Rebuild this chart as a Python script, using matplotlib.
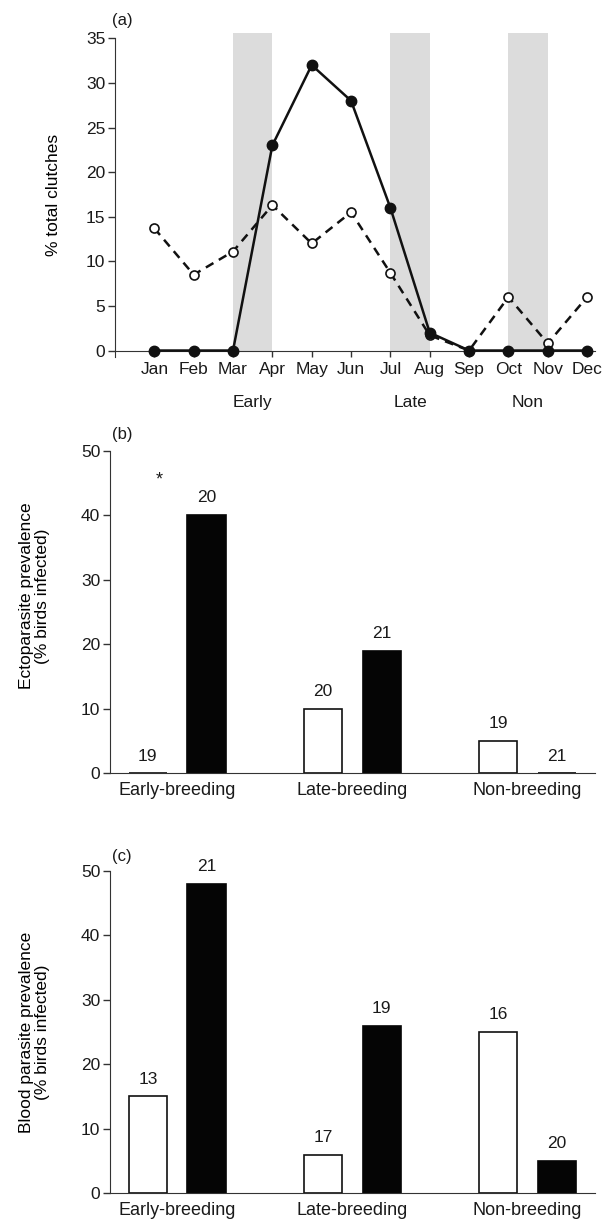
import matplotlib
matplotlib.use("Agg")
import matplotlib.pyplot as plt
import numpy as np

plt.rcParams["font.family"] = ["Liberation Sans", "DejaVu Sans"]
plt.rcParams["text.color"] = "#1a1a1a"
plt.rcParams["axes.edgecolor"] = "#333333"
plt.rcParams["xtick.color"] = "#333333"
plt.rcParams["ytick.color"] = "#333333"
plt.rcParams["xtick.labelcolor"] = "#1a1a1a"
plt.rcParams["ytick.labelcolor"] = "#1a1a1a"

# ---------------------------------------------------------------------------
# Data
# ---------------------------------------------------------------------------
months = ["Jan", "Feb", "Mar", "Apr", "May", "Jun",
          "Jul", "Aug", "Sep", "Oct", "Nov", "Dec"]
clutch_filled = [0, 0, 0, 23, 32, 28, 16, 2, 0, 0, 0, 0]
clutch_open = [13.7, 8.5, 11.1, 16.3, 12, 15.5, 8.7, 1.7, 0, 6, 0.8, 6]

# sampling periods (month index where each grey band starts)
period_names = ["Early", "Late", "Non"]
period_starts = [3, 7, 10]

groups = ["Early-breeding", "Late-breeding", "Non-breeding"]

ecto_white = [0, 10, 5]
ecto_black = [40, 19, 0]
ecto_n_white = ["19", "20", "19"]
ecto_n_black = ["20", "21", "21"]

blood_white = [15, 6, 25]
blood_black = [48, 26, 5]
blood_n_white = ["13", "17", "16"]
blood_n_black = ["21", "19", "20"]

FS = 12.5

fig = plt.figure(figsize=(6.03, 12.25), dpi=100)

# ---------------------------------------------------------------------------
# (a) monthly clutches
# ---------------------------------------------------------------------------
ax = fig.add_axes([0.1907, 0.7084, 0.796, 0.2647])
x = np.arange(1, len(months) + 1)

for s in period_starts:
    ax.fill_between([s, s + 1], 0, 35.6, color="#dcdcdc", lw=0, zorder=0)

ax.plot(x, clutch_open, "--", color="#111111", lw=1.8, dashes=(3.5, 2.5),
        marker="o", ms=6.5, mfc="white", mec="#111111", mew=1.2, zorder=3)
ax.plot(x, clutch_filled, "-", color="#111111", lw=1.8,
        marker="o", ms=7.5, mfc="#111111", mec="#111111", zorder=4)

ax.set_xlim(0, 12.2)
ax.set_ylim(-0.75, 35.6)
ax.set_yticks(np.arange(0, 36, 5))
ax.set_xticks(x)
ax.set_xticklabels(months)
ax.spines["top"].set_visible(False)
ax.spines["right"].set_visible(False)
ax.spines["bottom"].set_position(("data", 0))
ax.spines["left"].set_bounds(-0.75, 35)
ax.tick_params(axis="y", length=5, width=1, labelsize=FS, pad=2)
ax.tick_params(axis="x", length=4, width=1, labelsize=FS, pad=4)
ax.set_ylabel("% total clutches", fontsize=FS)
ax.yaxis.set_label_coords(-0.112, 0.5)

for name, s in zip(period_names, period_starts):
    ax.text(s + 0.5, -0.141, name, transform=ax.get_xaxis_transform(),
            ha="center", va="center", fontsize=FS)

fig.text(122 / 603, 1 - 20 / 1225, "(a)", ha="center", va="center", fontsize=12)


# ---------------------------------------------------------------------------
# (b), (c) prevalence bars
# ---------------------------------------------------------------------------
def bar_panel(rect, white, black, n_white, n_black, ylabel, label_y):
    ax = fig.add_axes(rect)
    g = np.arange(len(groups))
    w = 0.22
    off = 0.168
    ax.bar(g - off, white, w, color="white", edgecolor="#111111", lw=1.2)
    ax.bar(g + off, black, w, color="#050505", edgecolor="#050505", lw=1.2)
    for xi, v, t in zip(g - off, white, n_white):
        ax.annotate(t, (xi, v), xytext=(0, 7), textcoords="offset points",
                    ha="center", va="bottom", fontsize=FS)
    for xi, v, t in zip(g + off, black, n_black):
        ax.annotate(t, (xi, v), xytext=(0, 7), textcoords="offset points",
                    ha="center", va="bottom", fontsize=FS)
    ax.set_xlim(-0.384, 2.384)
    ax.set_ylim(0, 50)
    ax.set_yticks(np.arange(0, 51, 10))
    ax.set_xticks(g)
    ax.set_xticklabels(groups)
    ax.spines["top"].set_visible(False)
    ax.spines["right"].set_visible(False)
    ax.tick_params(axis="y", length=5, width=1, labelsize=FS, pad=2)
    ax.tick_params(axis="x", length=0, labelsize=13, pad=6)
    ax.set_ylabel(ylabel, fontsize=FS, linespacing=1.05)
    ax.yaxis.set_label_coords(-0.124, label_y)
    return ax


axb = bar_panel([0.1824, 0.3687, 0.804, 0.2634], ecto_white, ecto_black,
                ecto_n_white, ecto_n_black,
                "Ectoparasite prevalence\n(% birds infected)", 0.55)
axb.text(-0.1, 45.5, "*", ha="center", va="center", fontsize=13)
fig.text(122 / 603, 1 - 435 / 1225, "(b)", ha="center", va="center", fontsize=12)

axc = bar_panel([0.1824, 0.02588, 0.804, 0.2634], blood_white, blood_black,
                blood_n_white, blood_n_black,
                "Blood parasite prevalence\n(% birds infected)", 0.5)
fig.text(122 / 603, 1 - 857 / 1225, "(c)", ha="center", va="center", fontsize=12)

fig.savefig("out.png", dpi=100)
